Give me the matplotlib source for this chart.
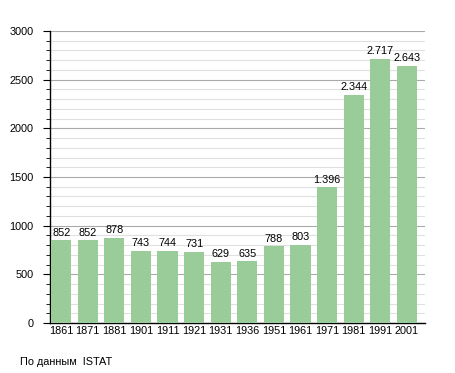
import matplotlib
matplotlib.use("Agg")
import matplotlib.pyplot as plt
from matplotlib.ticker import MultipleLocator

years = ["1861", "1871", "1881", "1901", "1911", "1921", "1931", "1936",
         "1951", "1961", "1971", "1981", "1991", "2001"]
population = [852, 852, 878, 743, 744, 731, 629, 635, 788, 803, 1396, 2344, 2717, 2643]
source = "По данным  ISTAT"

plt.rcParams['font.family'] = ['Liberation Sans', 'DejaVu Sans']

fig = plt.figure(figsize=(4.55, 3.73), dpi=100)
ax = fig.add_axes([50/455, 1-323/373, 375/455, 292/373])

x = list(range(len(years)))
ax.bar(x, population, width=0.76, color='#99cc99', zorder=3)
for xi, v in zip(x, population):
    lab = f"{v:,}".replace(",", ".")
    ax.text(xi, v + 25, lab, ha='center', va='bottom', fontsize=7.8, zorder=4)

ax.set_xlim(-0.42, 13.68)
ax.set_ylim(0, 3000)
ax.set_xticks(x)
ax.set_xticklabels(years)
ax.yaxis.set_major_locator(MultipleLocator(500))
ax.yaxis.set_minor_locator(MultipleLocator(100))
ax.grid(axis='y', which='major', color='#aaaaaa', linewidth=0.8, zorder=0)
ax.grid(axis='y', which='minor', color='#e0e0e0', linewidth=0.8, zorder=0)
ax.tick_params(axis='x', length=0, labelsize=7.8, pad=2.5)
ax.tick_params(axis='y', which='major', length=5, labelsize=7.8, pad=7)
ax.tick_params(axis='y', which='minor', length=3)
for s in ['top', 'right']:
    ax.spines[s].set_visible(False)
ax.spines['left'].set_linewidth(1)
ax.spines['bottom'].set_linewidth(1)

fig.text(20/455, 1-362/373, source, fontsize=7.8, va='center', ha='left')

fig.savefig("out.png", dpi=100)
